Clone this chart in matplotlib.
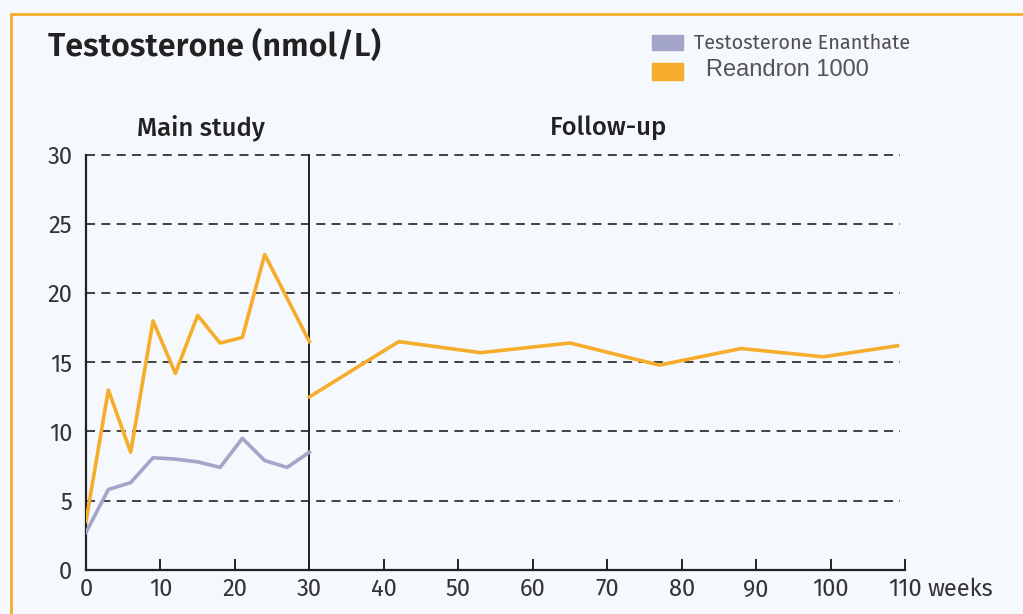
import matplotlib
matplotlib.use("Agg")
import matplotlib.pyplot as plt
from matplotlib.patches import Rectangle

# data
main_weeks = [0, 3, 6, 9, 12, 15, 18, 21, 24, 30]
reandron_main = [3.5, 13.0, 8.5, 18.0, 14.2, 18.4, 16.4, 16.8, 22.8, 16.5]
enanthate_weeks = [0, 3, 6, 9, 12, 15, 18, 21, 24, 27, 30]
enanthate_main = [2.7, 5.8, 6.3, 8.1, 8.0, 7.8, 7.4, 9.5, 7.9, 7.4, 8.5]
follow_weeks = [30, 42, 53, 65, 77, 88, 99, 109]
reandron_follow = [12.5, 16.5, 15.7, 16.4, 14.8, 16.0, 15.4, 16.2]

x_ticks = list(range(0, 111, 10))
y_ticks = [0, 5, 10, 15, 20, 25, 30]

ORANGE = "#f6ad2b"
GREY = "#a3a6c8"
BG = "#f5f8fc"
DARK = "#222222"
TICK = "#333333"

plt.rcParams["font.family"] = ["Fira Sans", "Open Sans", "DejaVu Sans"]

fig = plt.figure(figsize=(10.23, 6.14), dpi=100, facecolor=BG)
ax = fig.add_axes([86 / 1023, 1 - 569.7 / 614, (905 - 86) / 1023, (569.7 - 155) / 614])
ax.set_facecolor(BG)

# orange frame at top and left
fig.add_artist(plt.Line2D([11 / 1023, 1], [1 - 14 / 614] * 2, color=ORANGE, lw=2))
fig.add_artist(plt.Line2D([11 / 1023] * 2, [0, 1 - 14 / 614], color=ORANGE, lw=2))

for y in y_ticks[1:]:
    ax.plot([0, 109.3], [y, y], color="#333333", lw=1.3, ls=(0, (5, 3.5)), zorder=1, clip_on=False)

ax.plot([30, 30], [0, 30], color=DARK, lw=1.4, zorder=2, clip_on=False)
ax.plot(enanthate_weeks, enanthate_main, color=GREY, lw=2.6, zorder=3)
ax.plot(main_weeks, reandron_main, color=ORANGE, lw=2.6, zorder=4)
ax.plot(follow_weeks, reandron_follow, color=ORANGE, lw=2.6, zorder=4)

ax.set_xlim(0, 110)
ax.set_ylim(0, 30)
for s in ["top", "right"]:
    ax.spines[s].set_visible(False)
for s in ["left", "bottom"]:
    ax.spines[s].set_linewidth(1.6)
    ax.spines[s].set_color(DARK)

ax.set_xticks(x_ticks)
ax.set_xticklabels([str(t) for t in x_ticks], fontsize=17, color=TICK)
ax.set_yticks(y_ticks)
ax.set_yticklabels([str(t) for t in y_ticks], fontsize=17, color=TICK)
ax.tick_params(axis="x", direction="in", length=8, width=1.4, pad=6, color=DARK)
ax.tick_params(axis="y", length=0, pad=10)
ax.annotate("weeks", xy=(113.0, 0), xycoords=("data", "axes fraction"), xytext=(0, -6),
            textcoords="offset points", fontsize=17, color=TICK,
            ha="left", va="top", annotation_clip=False)

fig.text(48 / 1023, 1 - 46 / 614, "Testosterone (nmol/L)", fontsize=23.3, fontweight="semibold",
         color=DARK, ha="left", va="center")
fig.text(201 / 1023, 1 - 128 / 614, "Main study", fontsize=18.5, fontweight="medium",
         color=DARK, ha="center", va="center")
fig.text(609 / 1023, 1 - 128 / 614, "Follow-up", fontsize=18.5, fontweight="medium",
         color=DARK, ha="center", va="center")

# legend swatches
fig.add_artist(Rectangle((652 / 1023, 1 - 50 / 614), 31 / 1023, 15 / 614, color=GREY, transform=fig.transFigure))
fig.add_artist(Rectangle((652 / 1023, 1 - 80 / 614), 31 / 1023, 17 / 614, color=ORANGE, transform=fig.transFigure))
fig.text(694 / 1023, 1 - 43 / 614, "Testosterone Enanthate", fontsize=14.3, color="#505050",
         ha="left", va="center")
fig.text(706 / 1023, 1 - 70 / 614, "Reandron 1000", fontsize=17, color="#555555",
         family=["Liberation Sans", "DejaVu Sans"], ha="left", va="center")

fig.savefig("out.png", dpi=100, facecolor=BG)
